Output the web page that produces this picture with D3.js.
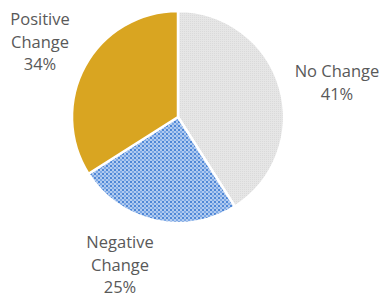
<!DOCTYPE html>
<html>
<head>
<meta charset="utf-8">
<script src="https://cdn.jsdelivr.net/npm/d3@7"></script>
<style>
  body { margin: 0; background: #fff; }
  svg { display: block; }
  text { font-family: "Open Sans", "Noto Sans", sans-serif; fill: #595959; font-size: 16.5px; }
</style>
</head>
<body>
<svg id="chart" width="382" height="297"></svg>
<script>
// chart data
let categories = ['No Change', 'Negative Change', 'Positive Change'];
let shares = [41, 25, 34];
let labelLines = [['No Change', '41%'], ['Negative', 'Change', '25%'], ['Positive', 'Change', '34%']];
let labelPos = [[337, 70], [120, 241], [40, 18]];

let width = 382, height = 297;
let cx = 178, cy = 117, radius = 106;

let svg = d3.select('#chart');
let defs = svg.append('defs');

// grey fine texture
let pg = defs.append('pattern').attr('id', 'pat-grey')
    .attr('width', 2).attr('height', 2).attr('patternUnits', 'userSpaceOnUse');
pg.append('rect').attr('width', 2).attr('height', 2).attr('fill', '#e6e6e6');
pg.append('rect').attr('width', 1).attr('height', 1).attr('fill', '#dadada');

// blue checker texture
let pb = defs.append('pattern').attr('id', 'pat-blue')
    .attr('width', 4).attr('height', 4).attr('patternUnits', 'userSpaceOnUse');
pb.append('rect').attr('width', 4).attr('height', 4).attr('fill', '#b2cbef');
pb.append('rect').attr('width', 2).attr('height', 2).attr('fill', '#4f87d6');
pb.append('rect').attr('x', 2).attr('y', 2).attr('width', 2).attr('height', 2).attr('fill', '#7aa7e6');

let colorScale = d3.scaleOrdinal()
    .domain(categories)
    .range(['url(#pat-grey)', 'url(#pat-blue)', '#d9a521']);

let pie = d3.pie().sort(null).value(d => d);
let arc = d3.arc().innerRadius(0).outerRadius(radius);

let g = svg.append('g').attr('transform', `translate(${cx},${cy})`);
g.selectAll('path')
    .data(pie(shares))
    .join('path')
    .attr('d', arc)
    .attr('fill', (d, i) => colorScale(categories[i]))
    .attr('stroke', '#fff')
    .attr('stroke-width', 2.5)
    .attr('stroke-linejoin', 'round');

// labels
let lh = 22.5;
labelLines.forEach((lines, i) => {
    let t = svg.append('text')
        .attr('text-anchor', 'middle')
        .attr('dominant-baseline', 'central');
    lines.forEach((s, j) => {
        t.append('tspan')
            .attr('x', labelPos[i][0])
            .attr('y', labelPos[i][1] + j * lh)
            .text(s);
    });
});
</script>
</body>
</html>
